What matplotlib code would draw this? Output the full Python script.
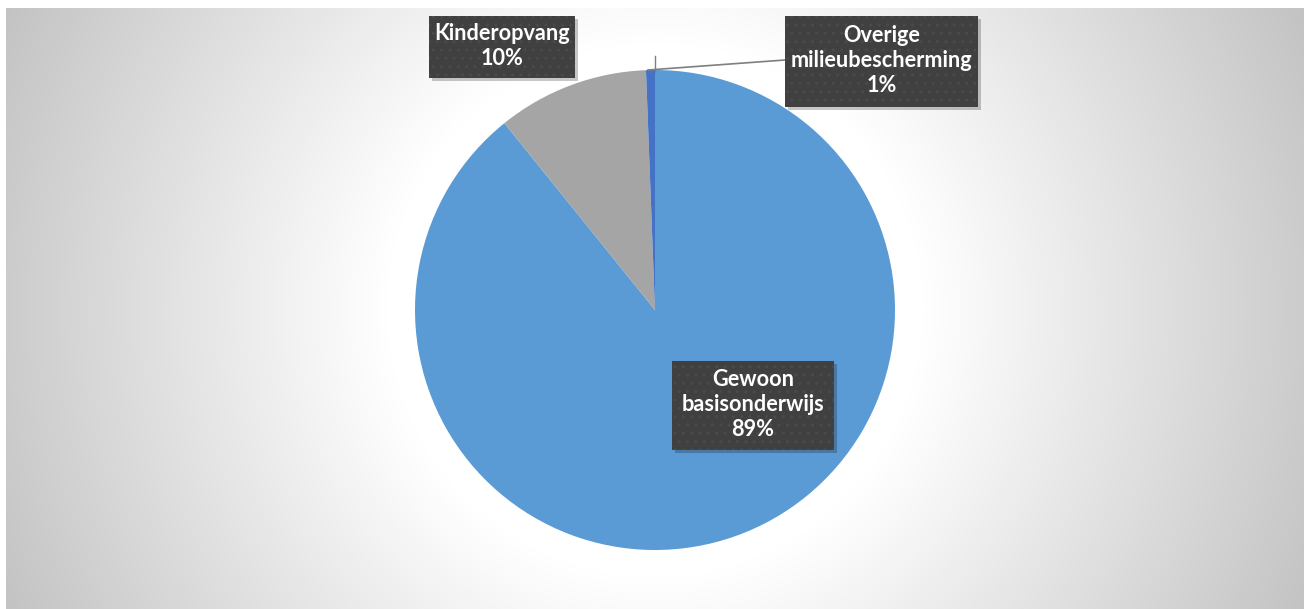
import numpy as np
import matplotlib
matplotlib.use("Agg")
import matplotlib.pyplot as plt
from matplotlib.patches import Rectangle

# Data
categories = ["Gewoon\nbasisonderwijs", "Kinderopvang", "Overige\nmilieubescherming"]
values = [89.2, 10.2, 0.6]
pct_labels = ["89%", "10%", "1%"]
colors = ["#5B9BD5", "#A5A5A5", "#4472C4"]

W, H = 1304, 609
fig = plt.figure(figsize=(W / 100, H / 100), dpi=100)
fig.patch.set_facecolor("white")

# Background gradient axes (chart area)
bx0, by0, bx1, by1 = 6, 8, 1304, 609
bg = fig.add_axes([bx0 / W, 1 - by1 / H, (bx1 - bx0) / W, (by1 - by0) / H])
xx, yy = np.meshgrid(np.linspace(bx0, bx1, 650), np.linspace(by0, by1, 300))
cx, cy = 655, 310
d = np.sqrt((xx - cx) ** 2 + (yy - cy) ** 2) / 650.0
shade = np.clip(1.0 - 0.341 * np.clip(d - 0.414, 0, None), 0, 1)
img = np.dstack([shade, shade, shade])
bg.imshow(img, aspect="auto", extent=[0, 1, 0, 1], interpolation="bilinear")
bg.set_axis_off()

# Main axes in pixel coordinates (y up)
ax = fig.add_axes([0, 0, 1, 1])
ax.patch.set_alpha(0)

def Y(y):
    return H - y

ax.pie(values, colors=colors, startangle=90, counterclock=False,
       center=(655, Y(310)), radius=240, frame=True,
       wedgeprops=dict(linewidth=0))
ax.set_xlim(0, W)
ax.set_ylim(0, H)
ax.set_axis_off()
ax.set_aspect("equal")

# Leader line for small slice
ax.plot([648, 785], [Y(70), Y(60)], color="#7f7f7f", lw=1.2, zorder=5)
ax.plot([655, 655], [Y(56), Y(72)], color="#7f7f7f", lw=1.0, zorder=5)

# Label boxes: (x0, y0, x1, y1) in pixels
boxes = [(672, 361, 834, 450), (429, 16, 575, 78), (785, 16, 978, 107)]
for (x0, y0, x1, y1), cat, pct in zip(boxes, categories, pct_labels):
    sh = Rectangle((x0 + 3, Y(y1) - 3), x1 - x0, y1 - y0, facecolor="black",
                   alpha=0.22, linewidth=0, zorder=6)
    ax.add_patch(sh)
    r = Rectangle((x0, Y(y1)), x1 - x0, y1 - y0, facecolor="#404040",
                  edgecolor="#4a4a4a", hatch="..", linewidth=0, zorder=7)
    ax.add_patch(r)
    ax.text((x0 + x1) / 2, Y((y0 + y1) / 2) + 1, cat + "\n" + pct, ha="center",
            va="center", color="white", fontsize=15.6, fontweight="bold",
            family="Lato", linespacing=1.22, zorder=8)

fig.savefig("out.png", dpi=100, facecolor="white")
